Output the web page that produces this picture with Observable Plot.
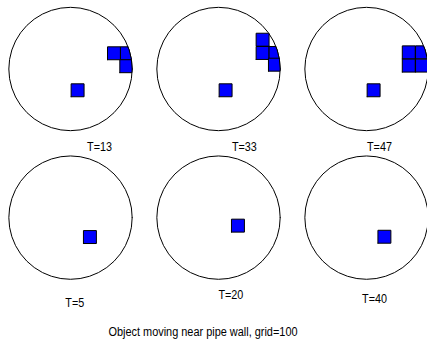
<!DOCTYPE html>
<html><head><meta charset="utf-8">
<script src="https://cdn.jsdelivr.net/npm/d3@7"></script>
<script src="https://cdn.jsdelivr.net/npm/@observablehq/plot@0.6"></script>
<style>
body{margin:0;background:#fff;width:427px;height:347px;overflow:hidden;position:relative;font-family:"Liberation Sans",Arial,sans-serif}
#chart{position:absolute;left:0;top:0}
#cap{position:absolute;left:0;width:406px;top:325px;text-align:center;font-size:12px;line-height:14px;color:#000;transform:scaleX(0.91);transform-origin:203px 0}
</style></head><body>
<div id="chart"></div>
<div id="cap"></div>
<script>
// ---- data ----
const panelLabels = ["T=13", "T=33", "T=47", "T=5", "T=20", "T=40"];
const panelCol = [0, 1, 2, 0, 1, 2];
const panelRow = [0, 0, 0, 1, 1, 1];
// occupied grid cells: panel index and lower-left corner, in pipe-radius units (pipe centre = 0,0)
const cellPanel = [0, 0, 0, 0, 1, 1, 1, 1, 1, 2, 2, 2, 2, 2, 3, 4, 5];
const cellX = [0.01, 0.60, 0.81, 0.80, 0.01, 0.61, 0.61, 0.82, 0.81, 0.01, 0.58, 0.795, 0.58, 0.795, 0.21, 0.21, 0.185];
const cellY = [-0.45, 0.15, 0.15, -0.06, -0.45, 0.37, 0.155, 0.155, -0.035, -0.45, 0.165, 0.165, -0.05, -0.05, -0.42, -0.235, -0.415];
const cellSize = 0.21;
const pipeRadius = 1;
const caption = "Object moving near pipe wall, grid=100";

// ---- layout (not data) ----
const colStep = 2.4, rowStep = 2.41;
const labelDx = [0.47, 0.42, 0.21, 0.07, 0.20, 0.13];
const labelDy = [-1.33, -1.33, -1.33, -1.455, -1.325, -1.39];
const W = 427, H = 320, pxPerUnit = 61.67, originX = 70, originY = 68.5;
const FONT = '"Liberation Sans",Arial,sans-serif';
const NARROW = 0.9;

const N = 40;
const circleLocal = d3.range(N).map(i => {
  const a = 2 * Math.PI * i / N;
  return [pipeRadius * Math.cos(a), pipeRadius * Math.sin(a)];
});

function clipPoly(subject, clip) {
  let out = subject;
  for (let i = 0; i < clip.length && out.length; i++) {
    const A = clip[i], B = clip[(i + 1) % clip.length];
    const side = p => (B[0] - A[0]) * (p[1] - A[1]) - (B[1] - A[1]) * (p[0] - A[0]);
    const inp = out; out = [];
    for (let j = 0; j < inp.length; j++) {
      const P = inp[j], Q = inp[(j + 1) % inp.length];
      const sp = side(P), sq = side(Q);
      const inter = () => { const t = sp / (sp - sq); return [P[0] + t * (Q[0] - P[0]), P[1] + t * (Q[1] - P[1])]; };
      if (sq >= 0) { if (sp < 0) out.push(inter()); out.push(Q); }
      else if (sp >= 0) out.push(inter());
    }
  }
  return out;
}

const circles = [];
panelLabels.forEach((lab, p) => {
  const ox = panelCol[p] * colStep, oy = -panelRow[p] * rowStep;
  [...circleLocal, circleLocal[0]].forEach(([x, y]) => circles.push({panel: p, x: ox + x, y: oy + y}));
});

const cells = [];
cellPanel.forEach((p, i) => {
  const ox = panelCol[p] * colStep, oy = -panelRow[p] * rowStep;
  const x0 = cellX[i], y0 = cellY[i], s = cellSize;
  const sq = [[x0, y0], [x0 + s, y0], [x0 + s, y0 + s], [x0, y0 + s]];
  const poly = clipPoly(sq, circleLocal);
  [...poly, poly[0]].forEach(([x, y]) => cells.push({id: i, x: ox + x, y: oy + y}));
});

const labels = panelLabels.map((t, p) => ({
  text: t,
  x: panelCol[p] * colStep + labelDx[p],
  y: -panelRow[p] * rowStep + labelDy[p]
}));

const chart = Plot.plot({
  width: W, height: H,
  marginTop: 0, marginRight: 0, marginBottom: 0, marginLeft: 0,
  x: {domain: [-originX / pxPerUnit, (W - originX) / pxPerUnit], axis: null},
  y: {domain: [-(H - originY) / pxPerUnit, originY / pxPerUnit], axis: null},
  style: {background: "white", overflow: "visible"},
  marks: [
    Plot.line(circles, {x: "x", y: "y", z: "panel", stroke: "black", strokeWidth: 1, curve: "linear"}),
    Plot.line(cells, {x: "x", y: "y", z: "id", fill: "#0000ff", stroke: "black", strokeWidth: 1, strokeLinejoin: "miter"}),
    Plot.text(labels, {x: "x", y: "y", text: "text", textAnchor: "middle", lineAnchor: "bottom", fontSize: 12, fontFamily: FONT, fill: "black"})
  ]
});
// narrow the label glyphs (Arial Narrow look) around each label's own anchor
chart.querySelectorAll('g[aria-label="text"] text').forEach(t => {
  const tr = t.getAttribute("transform");
  if (tr && /translate/.test(tr)) {
    t.setAttribute("transform", tr + ` scale(${NARROW},1)`);
  } else {
    const x = +t.getAttribute("x") || 0, y = +t.getAttribute("y") || 0;
    t.removeAttribute("x"); t.removeAttribute("y");
    t.setAttribute("transform", (tr ? tr + " " : "") + `translate(${x},${y}) scale(${NARROW},1)`);
  }
});
document.getElementById("chart").append(chart);
document.getElementById("cap").textContent = caption;
</script>
</body></html>
